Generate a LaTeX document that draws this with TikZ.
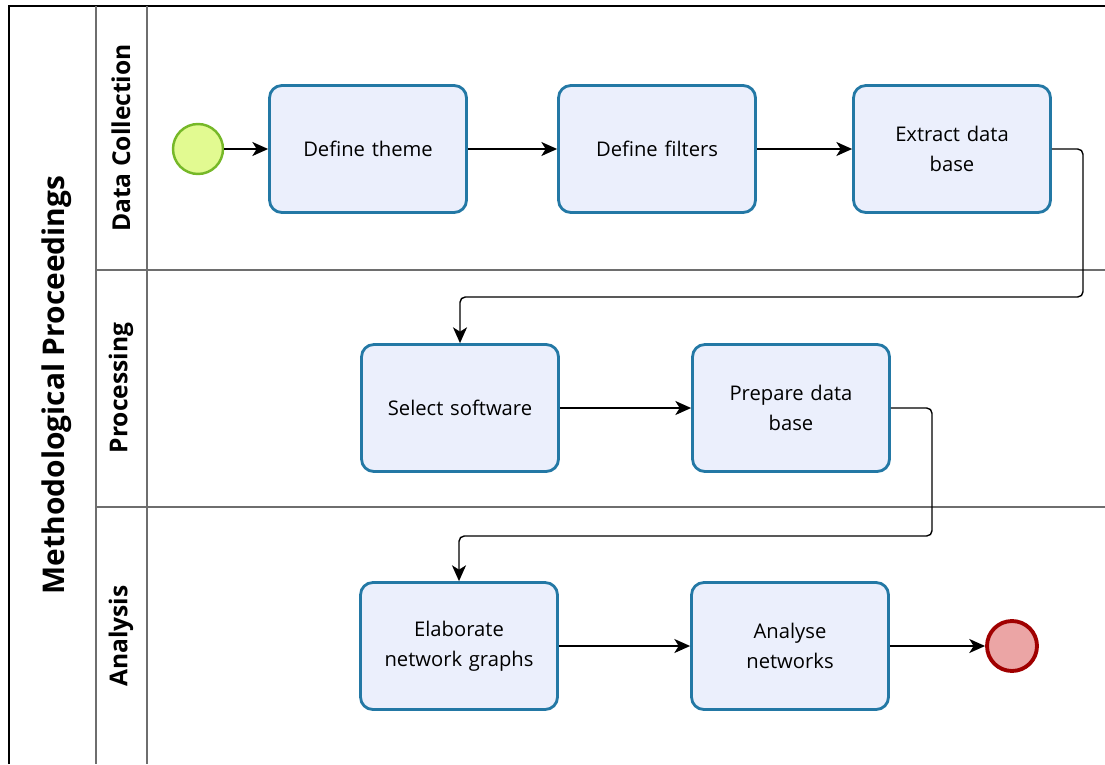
\documentclass[tikz,border=0pt]{standalone}
\usepackage{fontspec}
\setmainfont{Open Sans}
\usetikzlibrary{arrows.meta,calc}

\definecolor{taskfill}{RGB}{235,239,252}
\definecolor{taskline}{RGB}{35,120,165}
\definecolor{startfill}{RGB}{226,250,145}
\definecolor{startline}{RGB}{118,184,40}
\definecolor{stopfill}{RGB}{235,165,165}
\definecolor{stopline}{RGB}{160,0,0}
\definecolor{laneline}{RGB}{110,110,110}

\begin{document}
\begin{tikzpicture}[x=0.02cm, y=-0.02cm,
    task/.style={rectangle, rounded corners=7pt, draw=taskline, line width=1.6pt, fill=taskfill,
      minimum width=3.94cm, minimum height=2.54cm, text width=3.4cm, align=center,
      font=\fontsize{11.5}{17}\selectfont},
    start/.style={circle, draw=startline, line width=1.4pt, fill=startfill, minimum size=1cm, inner sep=0pt},
    stop/.style={circle, draw=stopline, line width=2.2pt, fill=stopfill, minimum size=1cm, inner sep=0pt},
    flow/.style={-{Stealth[length=9pt,width=8pt,inset=2.5pt]}, line width=0.8pt},
    lane/.style={draw=laneline, line width=0.9pt},
    lanelabel/.style={rotate=90, font=\bfseries\fontsize{14}{16}\selectfont},
  ]
                
                    \useasboundingbox (0,0) rectangle (1105,764);
                    
                    % pool and lanes
                    \draw[line width=1pt] (9,764) -- (9,6) -- (1105,6);
                    \draw[lane] (96,6) -- (96,764);
                    \draw[lane] (147,6) -- (147,764);
                    \draw[lane] (96,270) -- (1105,270);
                    \draw[lane] (96,507) -- (1105,507);
                    
                    \node[rotate=90, font=\bfseries\fontsize{17}{20}\selectfont] (pool) at (57,385) {Methodological Proceedings};
                    \node[lanelabel] (collect) at (121,138) {Data Collection};
                    \node[lanelabel] (process) at (121,388) {Processing};
                    \node[lanelabel] (analysis) at (121,636) {Analysis};
                    
                    % events and tasks
                    \node[start] (begin) at (198,149) {};
                    \node[task] (theme) at (368,149) {Define theme};
                    \node[task] (filters) at (657,149) {Define filters};
                    \node[task] (extract) at (952,149) {Extract data\\base};
                    \node[task] (select) at (460,408) {Select software};
                    \node[task] (prepare) at (791,408) {Prepare data\\base};
                    \node[task] (graphs) at (459,646) {Elaborate\\network graphs};
                    \node[task] (analyse) at (790,646) {Analyse\\networks};
                    \node[stop] (finish) at (1012,646) {};
                    
                    \coordinate (k1) at (1083,297);
                    \coordinate (k2) at (932,536);
                    
                    \draw[flow] (begin) -- (theme);
                    \draw[flow] (theme) -- (filters);
                    \draw[flow] (filters) -- (extract);
                    \draw[flow, rounded corners=3pt] (extract.east) -- (extract.east -| k1) -- (k1) -- (k1 -| select.north) -- (select.north);
                    \draw[flow] (select) -- (prepare);
                    \draw[flow, rounded corners=3pt] (prepare.east) -- (prepare.east -| k2) -- (k2) -- (k2 -| graphs.north) -- (graphs.north);
                    \draw[flow] (graphs) -- (analyse);
                    \draw[flow] (analyse) -- (finish);
                    
                \end{tikzpicture}
\end{document}
